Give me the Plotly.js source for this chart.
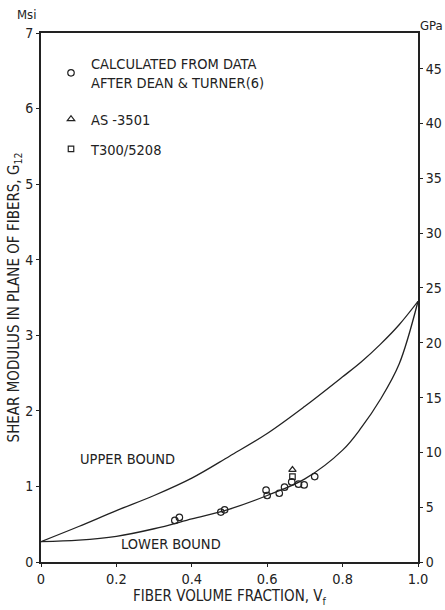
<!DOCTYPE html>
<html>
<head>
<meta charset="utf-8">
<script src="https://cdn.plot.ly/plotly-3.0.1.min.js"></script>
<style>html,body{margin:0;padding:0;background:#fff;}#chart{width:445px;height:610px;}</style>
</head>
<body>
<div id="chart"></div>
<script>
// Bound curves (Msi) vs fiber volume fraction
const boundX = [0, 0.1, 0.2, 0.3, 0.4, 0.5, 0.6, 0.7, 0.8, 0.85, 0.9, 0.95, 1.0];
const upperBound = [0.27, 0.47, 0.68, 0.88, 1.11, 1.40, 1.70, 2.06, 2.45, 2.65, 2.88, 3.14, 3.45];
const lowerBound = [0.27, 0.29, 0.34, 0.44, 0.57, 0.70, 0.88, 1.10, 1.48, 1.78, 2.15, 2.62, 3.45];

// Data points
const deanX = [0.355, 0.367, 0.477, 0.487, 0.597, 0.600, 0.632, 0.646, 0.665, 0.683, 0.698, 0.726];
const deanY = [0.55, 0.59, 0.66, 0.69, 0.95, 0.88, 0.91, 0.99, 1.06, 1.03, 1.02, 1.13];
const as3501X = [0.667];
const as3501Y = [1.22];
const t300X = [0.667];
const t300Y = [1.13];

const xTickVals = [0, 0.2, 0.4, 0.6, 0.8, 1.0];
const xTickText = ['0', '0.2', '0.4', '0.6', '0.8', '1.0'];
const msiTicks = [0, 1, 2, 3, 4, 5, 6, 7];
const gpaTicks = [0, 5, 10, 15, 20, 25, 30, 35, 40, 45];
const msiToGpa = 6.895;

const FONT = 'DejaVu Sans Condensed, Liberation Sans Narrow, Arial Narrow, sans-serif';
const INK = '#222';

// plot-area geometry helpers (pixel -> paper fraction)
const M = {l: 41, r: 27, t: 33, b: 48};
const W = 445, H = 610;
const pw = W - M.l - M.r, ph = H - M.t - M.b;
const px = v => (v - M.l) / pw;
const py = v => (H - M.b - v) / ph;

const traces = [
  {x: boundX, y: upperBound, mode: 'lines', line: {color: INK, width: 1.3, shape: 'spline', smoothing: 1}, showlegend: false, hoverinfo: 'skip'},
  {x: boundX, y: lowerBound, mode: 'lines', line: {color: INK, width: 1.3, shape: 'spline', smoothing: 1}, showlegend: false, hoverinfo: 'skip'},
  {x: deanX, y: deanY, mode: 'markers', legend: 'legend', name: 'CALCULATED FROM DATA<br>AFTER DEAN & TURNER(6)', marker: {symbol: 'circle-open', size: 6.5, color: INK, line: {width: 1.2}}},
  {x: as3501X, y: as3501Y, mode: 'markers', legend: 'legend2', name: 'AS -3501', marker: {symbol: 'triangle-up-open', size: 6.5, color: INK, line: {width: 1.2}}},
  {x: t300X, y: t300Y, mode: 'markers', legend: 'legend3', name: 'T300/5208', marker: {symbol: 'square-open', size: 5.5, color: INK, line: {width: 1.2}}},
  {x: [0], y: [0], yaxis: 'y2', mode: 'markers', marker: {opacity: 0}, showlegend: false, hoverinfo: 'skip'}
];

const legBase = {xanchor: 'left', yanchor: 'middle', bgcolor: 'rgba(0,0,0,0)', font: {size: 14.5, family: FONT, color: INK}, itemwidth: 30};

const layout = {
  width: W, height: H,
  margin: M,
  paper_bgcolor: '#fff', plot_bgcolor: '#fff',
  font: {family: FONT, size: 14, color: INK},
  showlegend: true,
  legend: Object.assign({}, legBase, {x: px(51), y: py(73)}),
  legend2: Object.assign({}, legBase, {x: px(51), y: py(119)}),
  legend3: Object.assign({}, legBase, {x: px(51), y: py(149)}),
  xaxis: {
    range: [0, 1.0], tickvals: xTickVals, ticktext: xTickText,
    showgrid: false, zeroline: false, showline: true, linecolor: INK, linewidth: 2, mirror: true,
    ticks: 'outside', ticklen: 3, tickcolor: INK, tickfont: {size: 14.5},
    title: {text: 'FIBER VOLUME FRACTION, V<sub>f</sub>', font: {size: 15, family: FONT}, standoff: 4}
  },
  yaxis: {
    range: [0, 7], tickvals: msiTicks,
    showgrid: false, zeroline: false, showline: true, linecolor: INK, linewidth: 2,
    ticks: 'outside', ticklen: 3, tickcolor: INK, tickfont: {size: 14},
    title: {text: 'SHEAR MODULUS IN PLANE OF FIBERS, G<sub>12</sub>', font: {size: 15, family: FONT}, standoff: 2}
  },
  yaxis2: {
    overlaying: 'y', side: 'right', range: [0, 7 * msiToGpa], tickvals: gpaTicks,
    showgrid: false, zeroline: false, showline: true, linecolor: INK, linewidth: 2,
    ticks: 'outside', ticklen: 3, tickcolor: INK, tickfont: {size: 14}
  },
  annotations: [
    {x: 0.229, y: 1.36, xref: 'x', yref: 'y', text: 'UPPER BOUND', showarrow: false, font: {size: 14.5, family: FONT}},
    {x: 0.346, y: 0.24, xref: 'x', yref: 'y', text: 'LOWER BOUND', showarrow: false, font: {size: 14.5, family: FONT}},
    {x: px(26), y: py(15), xref: 'paper', yref: 'paper', xanchor: 'center', yanchor: 'middle', text: 'Msi', showarrow: false, font: {size: 13, family: FONT}},
    {x: px(431), y: py(25), xref: 'paper', yref: 'paper', xanchor: 'center', yanchor: 'middle', text: 'GPa', showarrow: false, font: {size: 13, family: FONT}}
  ]
};

Plotly.newPlot('chart', traces, layout, {displayModeBar: false, staticPlot: true});
</script>
</body>
</html>
